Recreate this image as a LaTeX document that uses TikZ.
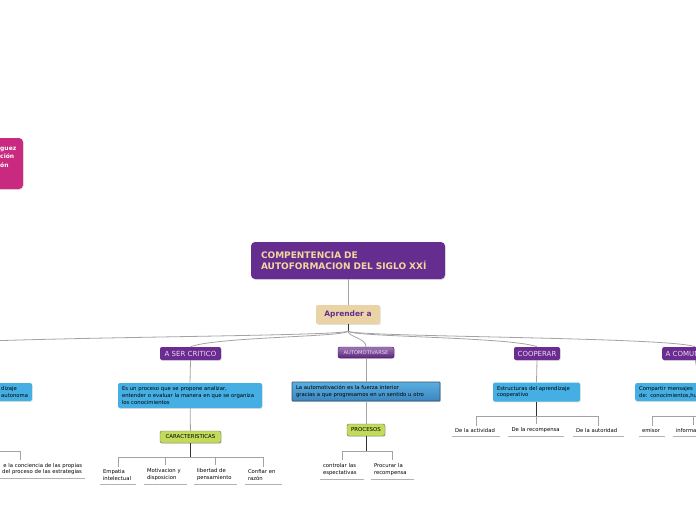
\documentclass[tikz,border=0pt]{standalone}
\usepackage{fontspec}
\setmainfont{DejaVu Sans}
\usepackage{xcolor}
\usetikzlibrary{calc, shadows}

\definecolor{topicPurple}{HTML}{662D91}
\definecolor{titleText}{HTML}{F2D79B}
\definecolor{aprFill}{HTML}{EAD3A5}
\definecolor{subPurple}{HTML}{6B2C91}
\definecolor{subText}{HTML}{E6DAF2}
\definecolor{defBlue}{HTML}{45AEE3}
\definecolor{motivTop}{HTML}{5AAEE0}
\definecolor{motivBot}{HTML}{3C86C0}
\definecolor{motivEdge}{HTML}{3A4E66}
\definecolor{grpGreen}{HTML}{C3DB5B}
\definecolor{pinkFill}{HTML}{C92A7F}
\definecolor{linkGray}{HTML}{A3A3A3}

\newcommand{\fsz}[2]{\fontsize{#1}{#2}\selectfont}

\begin{document}
\begin{tikzpicture}[x=1pt, y=-1pt,
  every node/.style={font=\fsz{5.3}{7}},
  mmbox/.style={rounded corners=2pt, inner sep=0pt, drop shadow={shadow xshift=0.7pt, shadow yshift=-0.9pt, opacity=0.25}},
  topic/.style={mmbox, fill=subPurple, text=subText, font=\fsz{7}{8}, minimum height=13pt, inner xsep=3.5pt},
  defn/.style={mmbox, fill=defBlue, text=black, font=\fsz{5.3}{6.6}, align=left, inner xsep=4pt},
  grp/.style={mmbox, fill=grpGreen, draw=black!60, line width=0.4pt, font=\fsz{5.4}{6}, minimum height=12pt, inner xsep=4pt},
  leaf/.style={font=\fsz{5.3}{7}, align=left, inner xsep=3pt, inner ysep=3pt, anchor=south},
  link/.style={draw=linkGray, line width=0.8pt},
  dropline/.style={draw=black!80, line width=0.8pt},
  uline/.style={draw=black!30, line width=0.9pt}]
  \useasboundingbox (0,0) rectangle (696,520);
  \clip (0,0) rectangle (696,520);

  % side topic, cut by the left edge
  \node[mmbox, fill=pinkFill, rounded corners=4pt, minimum width=83pt, minimum height=51pt] (pink) at (-18.5,163.5) {};
  \node[anchor=north west, inner sep=0pt, text=white, font=\fsz{6}{8.5}\bfseries, align=left] (pinkTxt) at (0,146.5) {guez\\ción\\ón};

  % central topic
  \node[mmbox, fill=topicPurple, text=titleText, font=\fsz{9}{11}\bfseries, align=left, text width=174pt, minimum height=37pt, inner xsep=10pt, rounded corners=4pt] (title) at (348,260.5) {COMPENTENCIA DE\\AUTOFORMACION DEL SIGLO XXÍ};
  \node[mmbox, fill=aprFill, text=topicPurple, font=\fsz{7.5}{9}\bfseries, minimum width=64pt, minimum height=19pt] (apr) at (348,314.5) {Aprender a};
  \draw[link] (title) -- (apr);
  \coordinate (hub) at (348,331);
  \draw[dropline] (apr.south) -- (hub);

  % main branches
  \node[topic, minimum width=60pt] (autoHdr) at (-90,353.5) {};
  \node[topic, minimum width=61pt] (critico) at (190.5,353.5) {A SER CRITICO};
  \node[topic, minimum width=56pt, minimum height=11pt, font=\fsz{5.2}{6}, top color=subPurple!65!white, bottom color=subPurple!85!black, draw=subPurple!60!black, line width=0.4pt] (motiv) at (366,352.5) {AUTOMOTIVARSE};
  \node[topic, minimum width=46pt] (coop) at (537,353.5) {COOPERAR};
  \node[topic, anchor=west] (comun) at (662,353.5) {A COMUNICARSE};
  \foreach \t/\cx/\cy in {autoHdr/25/-10, critico/25/-10, motiv/0/-9, coop/-25/-10, comun/-25/-10}
    \draw[link] (hub) .. controls +(0,6) and +(\cx,\cy) .. (\t.north);

  % definitions
  \node[defn, minimum width=124pt, minimum height=18pt] (autoDef) at (-30,392) {};
  \node[anchor=west, inner sep=0pt, align=left, font=\fsz{5.3}{6.6}] (autoDefTxt) at (1,392) {dizaje\\autonoma};
  \node[defn, text width=136pt, minimum height=25pt] (criticoDef) at (190,395.5) {Es un proceso que se propone analizar,\\entender o evaluar la manera en que se organiza\\los conocimientos};
  \node[defn, text width=140pt, minimum height=19pt, rounded corners=0.5pt, top color=motivTop, bottom color=motivBot, draw=motivEdge, line width=0.6pt] (motivDef) at (366,391.5) {La automotivación es la fuerza interior\\gracias a que progresamos en un sentido u otro};
  \node[defn, text width=79pt, minimum height=19pt] (coopDef) at (536.5,392) {Estructuras del aprendizaje\\cooperativo};
  \node[defn, anchor=west, text width=120pt, minimum height=18pt] (comunDef) at (635,392) {Compartir mensajes\\de: conocimientos,hu};
  \foreach \a/\b in {autoHdr/autoDef, critico/criticoDef, motiv/motivDef, coop/coopDef, comun/comunDef}
    \draw[link] (\a.south) -- (\b.north);

  % groups
  \node[grp, minimum width=61pt] (caract) at (190.5,437) {CARACTERISTICAS};
  \node[grp, minimum width=38pt] (proc) at (366,430) {PROCESOS};
  \draw[link] (criticoDef) -- (caract);
  \draw[link] (motivDef) -- (proc);

  % leaves
  \node[leaf, text width=124pt, align=right, font=\fsz{5.3}{6.5}] (lConc) at (20,478) {e la conciencia de las propias\\del proceso de las estrategias};
  \node[leaf, text width=30pt] (lEmp) at (118,484) {Empatia\\intelectual};
  \node[leaf, text width=37pt] (lMot) at (165.5,484) {Motivacion y\\disposicion};
  \node[leaf, text width=37pt] (lLib) at (215.5,484) {libertad de\\pensamiento};
  \node[leaf, text width=31pt] (lConf) at (263.5,484) {Confiar en\\razón};
  \node[leaf, text width=38pt] (lCtrl) at (342,479) {controlar las\\espectativas};
  \node[leaf, text width=37pt] (lRec) at (392.5,479) {Procurar la\\recompensa};
  \node[leaf, text width=42pt] (lAct) at (476,436) {De la actividad};
  \node[leaf, text width=49pt] (lRcp) at (536,436) {De la recompensa};
  \node[leaf, text width=45pt] (lAut) at (598.5,436) {De la autoridad};
  \node[leaf, text width=20pt] (lEmi) at (652,436) {emisor};
  \node[leaf, text width=34pt] (lInf) at (693,436) {información};
  \foreach \l in {lConc, lEmp, lMot, lLib, lConf, lCtrl, lRec, lAct, lRcp, lAut, lEmi, lInf}
    \draw[uline] (\l.south west) -- (\l.south east);

  % brackets
  \foreach \p/\kids/\yb in {autoDef/{lConc}/451, caract/{lEmp,lMot,lLib,lConf}/457, proc/{lCtrl,lRec}/451, coopDef/{lAct,lRcp,lAut}/416, comunDef/{lEmi,lInf}/416} {
    \draw[dropline] (\p.south) -- (\p.south |- 0,\yb);
    \foreach \k in \kids
      \draw[link] (\p.south |- 0,\yb) -| (\k.north);
  }
\end{tikzpicture}
\end{document}
